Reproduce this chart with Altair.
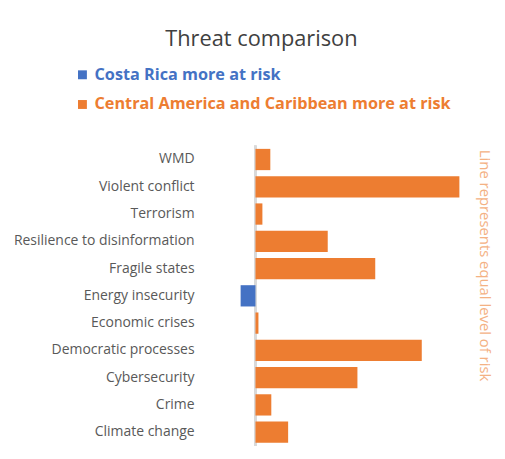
import altair as alt
import pandas as pd

categories = ["WMD", "Violent conflict", "Terrorism", "Resilience to disinformation",
              "Fragile states", "Energy insecurity", "Economic crises",
              "Democratic processes", "Cybersecurity", "Crime", "Climate change"]
values = [0.15, 2.06, 0.07, 0.73, 1.21, -0.15, 0.03, 1.68, 1.03, 0.16, 0.33]
series_names = ["Costa Rica more at risk", "Central America and Caribbean more at risk"]
series_colors = ["#4472C4", "#ED7D31"]
note = ["Line represents equal level of risk"]

df = pd.DataFrame({"threat": categories, "value": values})
df["series"] = [series_names[0] if v < 0 else series_names[1] for v in values]
df["zero"] = 0.0

FONT = "Open Sans"

xscale = alt.Scale(domain=[-0.17, 2.13], nice=False, zero=True)
yleft = alt.Y("threat:N", sort=categories,
              scale=alt.Scale(paddingInner=0.22, paddingOuter=0.11),
              axis=alt.Axis(title=None, domain=False, ticks=False, labelPadding=45,
                            labelFontSize=14.1, labelColor="#595959", labelFont=FONT,
                            labelLimit=300))


def legend_for(i, legend_y):
    return alt.Legend(title=None, orient="none", legendX=-166, legendY=legend_y,
                      symbolType="square", symbolSize=81,
                      symbolStrokeWidth=0, labelFont=FONT, labelFontSize=16.4,
                      labelFontWeight="bold", labelColor=series_colors[i],
                      labelOffset=4, labelLimit=400)


rule = alt.Chart(df).mark_rule(color="#D9D9D9", strokeWidth=2).encode(
    x=alt.X("zero:Q", scale=xscale, axis=None)
)

bars_cr = alt.Chart(df).transform_filter(
    alt.datum.series == series_names[0]
).mark_bar().encode(
    x=alt.X("value:Q", scale=xscale, axis=None), y=yleft,
    color=alt.Color("series:N", scale=alt.Scale(domain=[series_names[0]], range=[series_colors[0]]),
                    legend=legend_for(0, -80)),
)

bars_ca = alt.Chart(df).transform_filter(
    alt.datum.series == series_names[1]
).mark_bar().encode(
    x=alt.X("value:Q", scale=xscale, axis=None), y=yleft,
    fill=alt.Fill("series:N", scale=alt.Scale(domain=[series_names[1]], range=[series_colors[1]]),
                  legend=legend_for(1, -50)),
)

note_text = alt.Chart(pd.DataFrame({"note": note})).mark_text(
    angle=90, align="left", baseline="middle", font=FONT, fontSize=15,
    color="#F4B183",
).encode(text="note:N", x=alt.value(249), y=alt.value(4))

chart = alt.layer(rule, bars_cr, bars_ca, note_text).properties(
    width=230, height=303,
    padding={"left": 5, "top": 18, "right": 5, "bottom": 5},
    title=alt.TitleParams("Threat comparison", font=FONT, fontSize=22, fontWeight="normal",
                          color="#404040", anchor="middle", dx=-92, offset=16),
).configure_view(strokeWidth=0)

chart.save("out.html", embed_options={"renderer": "svg", "actions": False})
